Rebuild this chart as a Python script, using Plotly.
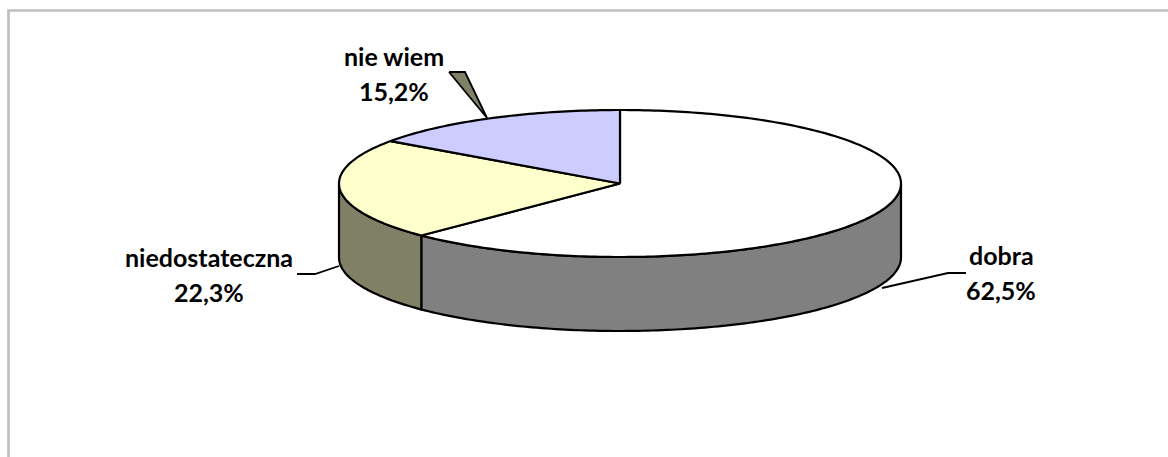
import numpy as np
import plotly.graph_objects as go

categories = ["dobra", "niedostateczna", "nie wiem"]
values = [62.5, 22.3, 15.2]
value_labels = ["62,5%", "22,3%", "15,2%"]
top_colors = ["#FFFFFF", "#FFFFCC", "#CCCCFF"]
side_colors = ["#808080", "#808066", "#666680"]

CX, CY, RX, RY, DEPTH = 620.0, 183.5, 281.0, 73.5, 74.0
W, H = 1168, 457
LINE = "#000000"
LW = 2.2


def px(a):
    return CX + RX * np.sin(a)


def py(a, d=0.0):
    return CY - RY * np.cos(a) + d


def arc(a0, a1):
    n = max(int(abs(a1 - a0) / np.radians(1)) + 2, 3)
    return np.linspace(a0, a1, n)


fig = go.Figure()


def poly(xs, ys, fill=None, width=LW):
    fig.add_trace(go.Scatter(
        x=xs, y=ys, mode="lines", hoverinfo="skip", showlegend=False,
        line=dict(color=LINE, width=width, simplify=False),
        fill="toself" if fill else "none", fillcolor=fill,
    ))


edges = np.radians(np.concatenate([[0], np.cumsum(values)]) * 3.6)

# side wall: only the front half of the cylinder (90 deg to 270 deg) is visible
for i in range(len(values)):
    a0, a1 = max(edges[i], np.pi / 2), min(edges[i + 1], 3 * np.pi / 2)
    if a1 <= a0:
        continue
    t = arc(a0, a1)
    xs = np.concatenate([px(t), px(t[::-1]), [px(t[0])]])
    ys = np.concatenate([py(t), py(t[::-1], DEPTH), [py(t[0])]])
    poly(xs, ys, side_colors[i])

# top face
for i in range(len(values)):
    t = arc(edges[i], edges[i + 1])
    xs = np.concatenate([[CX], px(t), [CX]])
    ys = np.concatenate([[CY], py(t), [CY]])
    poly(xs, ys, top_colors[i])

# leader lines
poly([882, 948, 966], [288, 273, 273], None, 1.8)
poly([339, 315, 297], [266, 274, 274], None, 1.8)
# Excel's slanted leader of the back slice renders as a small filled sliver
poly([449, 465, 487, 449], [72, 72, 118, 72], "#808066", 1.8)

labels_xy = [(1001, 255), (209, 257), (393.5, 56)]
LINE_GAP = 35
for c, v, (x, y) in zip(categories, value_labels, labels_xy):
    for k, t in enumerate((c, v)):
        fig.add_annotation(
            x=x, y=y + k * LINE_GAP, xref="x", yref="y", showarrow=False, align="center",
            text=f"<b>{t}</b>",
            font=dict(family="Lato, Noto Sans, sans-serif", size=25, color="#000000"),
        )

fig.update_layout(
    width=W, height=H, autosize=False, margin=dict(l=0, r=0, t=0, b=0),
    paper_bgcolor="#FFFFFF", plot_bgcolor="#FFFFFF", showlegend=False,
    xaxis=dict(range=[0, W], visible=False, fixedrange=True),
    yaxis=dict(range=[H, 0], visible=False, fixedrange=True),
    shapes=[dict(type="rect", xref="x", yref="y", x0=8.5, y0=10.5, x1=1400, y1=600,
                 line=dict(color="#BFBFBF", width=2.7), fillcolor="rgba(0,0,0,0)", layer="below")],
)
fig.write_html("out.html", config=dict(displayModeBar=False),
               post_script="document.body.style.margin='0';document.body.style.overflow='hidden';")
